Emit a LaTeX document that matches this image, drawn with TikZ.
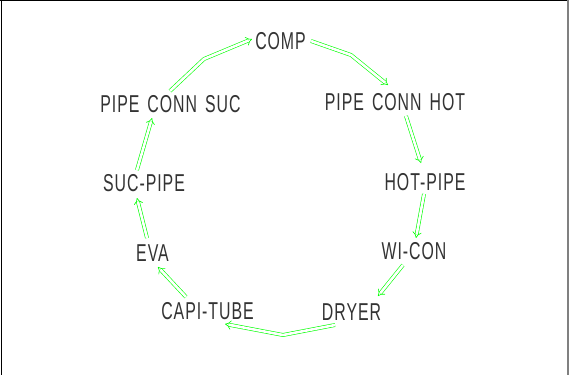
\documentclass[tikz,border=0pt]{standalone}
\usepackage{fontspec}
\setmainfont{Liberation Sans}[FakeStretch=0.65,LetterSpace=4,WordSpace=1.5]
\usetikzlibrary{arrows.meta,calc}
\definecolor{cadgreen}{RGB}{0,255,0}
\definecolor{edgegray}{RGB}{128,128,128}
\tikzset{
  lbl/.style={inner sep=0pt, outer sep=0pt, font=\fontsize{24.4}{28}\selectfont, text=black!80},
  flow/.style={draw=cadgreen, double=white, double distance=2.6pt, line width=0.6pt,
    line join=miter, -{Implies}},
  frameline/.style={draw=black, line width=1.3pt}
}
\begin{document}
\begin{tikzpicture}[x=1pt,y=-1pt]
\useasboundingbox (0,0) rectangle (569,375);
\fill[white] (0,0) rectangle (569,375);
% frame
\draw[frameline] (0,0.6) -- (569,0.6);
\draw[frameline] (1.7,0) -- (1.7,375);
\fill[edgegray] (566.8,0) rectangle (569,375);
% nodes
\node[lbl] (comp)    at (280.5,41.5) {COMP};
\node[lbl] (suc)     at (170.5,104.5) {PIPE CONN SUC};
\node[lbl] (hot)     at (395,102) {PIPE CONN HOT};
\node[lbl] (sucpipe) at (144,183) {SUC-PIPE};
\node[lbl] (hotpipe) at (425,182) {HOT-PIPE};
\node[lbl] (eva)     at (152.5,253) {EVA};
\node[lbl] (wicon)   at (414,251.5) {WI-CON};
\node[lbl] (capi)    at (207.5,311) {CAPI-TUBE};
\node[lbl] (dryer)   at (351.5,312) {DRYER};
% connectors
\draw[flow] ($(suc)+(-0.5,-13.5)$) -- ($(comp)+(-76.5,17.5)$) -- ($(comp)+(-28.5,-2.5)$);
\draw[flow] ($(comp)+(30.5,-0.5)$) -- ($(comp)+(70.5,13.5)$) -- ($(hot)+(-7,-17)$);
\draw[flow] ($(hot)+(11,14)$) -- ($(hotpipe)+(-4,-19)$);
\draw[flow] ($(hotpipe)+(-1,12)$) -- ($(wicon)+(2,-13.5)$);
\draw[flow] ($(wicon)+(-11,13.5)$) -- ($(dryer)+(26.5,-16)$);
\draw[flow] ($(dryer)+(-16.5,13)$) -- ($(dryer)+(-68.5,23)$) -- ($(capi)+(17.5,13)$);
\draw[flow] ($(capi)+(-21.5,-14)$) -- ($(eva)+(5.5,14)$);
\draw[flow] ($(eva)+(-5.5,-15)$) -- ($(sucpipe)+(-7,15)$);
\draw[flow] ($(sucpipe)+(-7,-13)$) -- ($(suc)+(-18.5,13.5)$);
\end{tikzpicture}
\end{document}
